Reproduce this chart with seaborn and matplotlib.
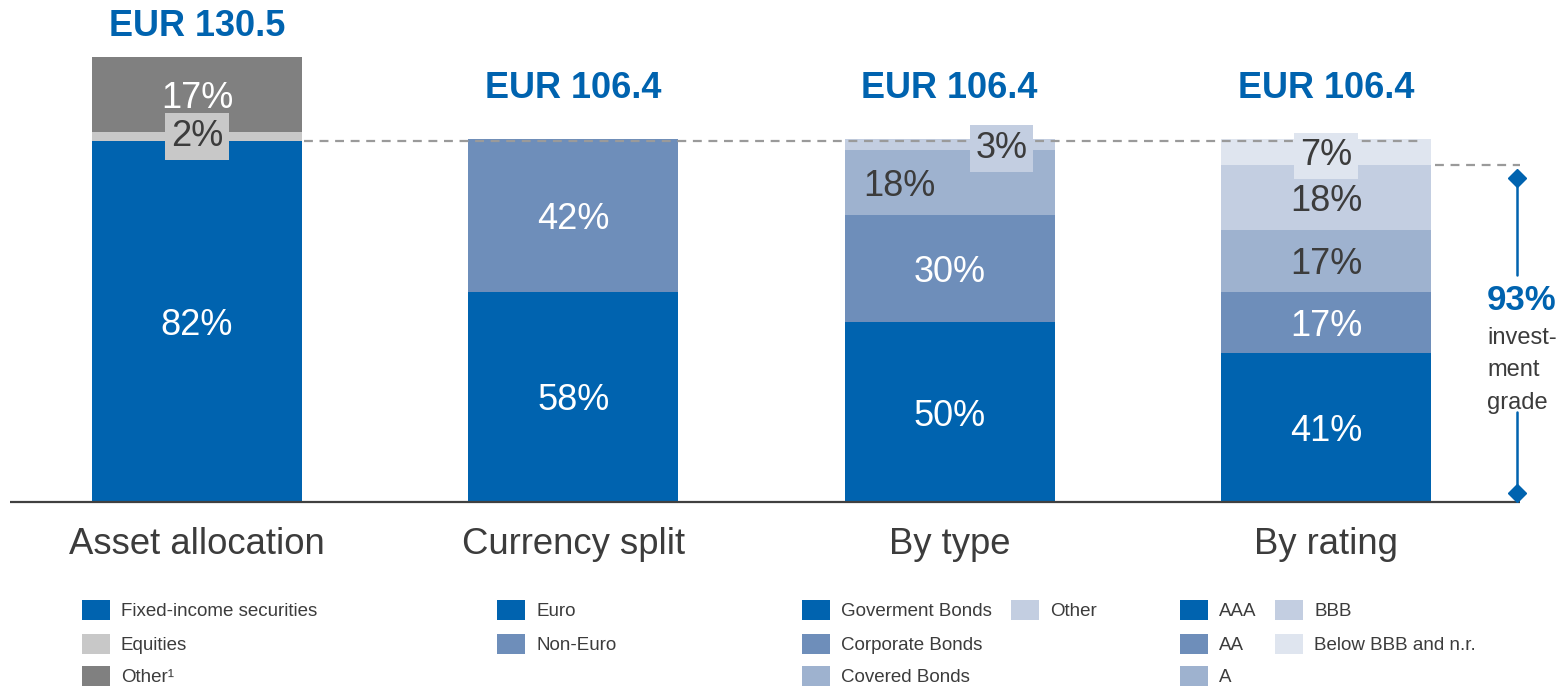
import numpy as np
import pandas as pd
import seaborn as sns
import matplotlib.pyplot as plt
from matplotlib.patches import Rectangle

# data
categories = ["Asset allocation", "Currency split", "By type", "By rating"]
totals = [130.5, 106.4, 106.4, 106.4]

asset_labels = ["Fixed-income securities", "Equities", "Other¹"]
asset_pct = [82, 2, 17]
currency_labels = ["Euro", "Non-Euro"]
currency_pct = [58, 42]
type_labels = ["Goverment Bonds", "Corporate Bonds", "Covered Bonds", "Other"]
type_pct = [50, 30, 18, 3]
rating_labels = ["AAA", "AA", "A", "BBB", "Below BBB and n.r."]
rating_pct = [41, 17, 17, 18, 7]
investment_grade_pct = 93

# colours
BLUE = "#0063AF"
MID = "#6E8EBA"
LIGHT = "#9EB2CF"
PALE = "#C3CEE1"
PALEST = "#DFE5EF"
EQ_GRAY = "#C8C8C8"
DARK_GRAY = "#808080"
TXT = "#3C3C3C"

groups = [
    (asset_labels, asset_pct, [BLUE, EQ_GRAY, DARK_GRAY]),
    (currency_labels, currency_pct, [BLUE, MID]),
    (type_labels, type_pct, [BLUE, MID, LIGHT, PALE]),
    (rating_labels, rating_pct, [BLUE, MID, LIGHT, PALE, PALEST]),
]

# label styling per bar: text colour, boxed, x shift (px), y shift (px)
label_style = [
    [("white", False, 0, 0), (TXT, True, 0, 0), ("white", False, 0, 0)],
    [("white", False, 0, 0), ("white", False, 0, 0)],
    [("white", False, 0, 0), ("white", False, 0, 0), (TXT, False, -50, 0), (TXT, True, 52, 0)],
    [("white", False, 0, 0), ("white", False, 0, 0), (TXT, False, 0, 0), (TXT, False, 0, 0), (TXT, True, 0, 0)],
]
label_anchor = {(0, 1): "top"}  # equities label sits on the boundary

# pixel <-> data mapping
W, H = 1567, 688
X0, XS = 197, 376.3
Y0, YS = 502, 3.41
BAR_W = 210 / XS


def to_x(p):
    return (p - X0) / XS


def to_y(p):
    return (Y0 - p) / YS


def fig_xy(x, y):
    return x / W, 1 - y / H


rows = []
for i, (labels, pct, colors) in enumerate(groups):
    share = np.array(pct, dtype=float) / sum(pct) * totals[i]
    tops = np.cumsum(share)
    for lvl, (lab, p, c, t, s) in enumerate(zip(labels, pct, colors, tops, share)):
        rows.append(dict(category=categories[i], idx=i, level=lvl, label=lab, pct=p,
                         color=c, top=t, bottom=t - s))
df = pd.DataFrame(rows)

sns.set_theme(style="white")
plt.rcParams["font.family"] = ["Liberation Sans", "DejaVu Sans"]

fig = plt.figure(figsize=(W / 100, H / 100), dpi=100)
ax = fig.add_axes([0, 0, 1, 1])

for lvl in sorted(df.level.unique(), reverse=True):
    sub = df[df.level == lvl]
    sns.barplot(data=sub, x="category", y="top", hue="category", order=categories,
                palette=dict(zip(sub.category, sub.color)), width=BAR_W, dodge=False,
                saturation=1, errorbar=None, legend=False, linewidth=0, ax=ax)

ax.set_xlim(to_x(0), to_x(W))
ax.set_ylim(to_y(H), to_y(0))
ax.axis("off")

# baseline
ax.plot([to_x(10), to_x(1520)], [0, 0], color="#404040", lw=1.6, solid_capstyle="butt")

# segment labels
for _, r in df.iterrows():
    col, boxed, dx, dy = label_style[r.idx][r.level]
    y = (r.top + r.bottom) / 2
    if label_anchor.get((r.idx, r.level)) == "top":
        y = r.top - 0.2
    kw = {}
    if boxed:
        kw["bbox"] = dict(boxstyle="square,pad=0.16", fc=r.color, ec="none")
    ax.text(r.idx + dx / XS, y - dy / YS, f"{r.pct}%", ha="center", va="center_baseline",
            fontsize=26, color=col, **kw)

# totals and category names
title_gap = [34, 55, 55, 55]
for i, t in enumerate(totals):
    top = df[df.idx == i].top.max()
    ax.text(i, top + title_gap[i] / YS, f"EUR {t}", ha="center", va="center_baseline",
            fontsize=26, fontweight="bold", color=BLUE)
    ax.text(i, to_y(541), categories[i], ha="center", va="center_baseline",
            fontsize=26.3, color=TXT)

# dashed guides
fi_top = df[(df.idx == 0) & (df.level == 0)].top.iloc[0]
ig_top = df[(df.idx == 3) & (df.level == 3)].top.iloc[0]
ax.plot([BAR_W / 2 + 0.005, 3 + BAR_W / 2 - 0.02], [fi_top, fi_top], color="#9A9A9A",
        lw=1.6, dashes=(4, 3))
ax.plot([3 + BAR_W / 2 + 0.01, to_x(1520)], [ig_top, ig_top], color="#9A9A9A",
        lw=1.6, dashes=(4, 3))

# investment grade bracket
bx = to_x(1517)
y_hi = ig_top - 13 / YS
y_lo = 9 / YS
ax.plot([bx, bx], [y_hi, to_y(275)], color=BLUE, lw=1.8)
ax.plot([bx, bx], [to_y(412), y_lo], color=BLUE, lw=1.8)
ax.plot([bx, bx], [y_hi, y_lo], ls="none", marker="D", ms=9, color=BLUE)
ax.text(to_x(1487), to_y(297), f"{investment_grade_pct}%", ha="left", va="center_baseline",
        fontsize=25, fontweight="bold", color=BLUE)
for txt, yy in zip(["invest-", "ment", "grade"], [335, 368, 400]):
    ax.text(to_x(1487), to_y(yy), txt, ha="left", va="center_baseline", fontsize=17, color=TXT)

# legends
legend_cols = [[82], [497], [802, 1011], [1180, 1275]]
legend_rows = [610, 644, 676]
for i, (labels, pct, colors) in enumerate(groups):
    for k, (lab, c) in enumerate(zip(labels, colors)):
        cx = legend_cols[i][k // 3]
        cy = legend_rows[k % 3]
        x0, y0 = fig_xy(cx, cy + 10)
        fig.patches.append(Rectangle((x0, y0), 28 / W, 20 / H, transform=fig.transFigure,
                                     fc=c, ec="none"))
        tx, ty = fig_xy(cx + 39, cy)
        fig.text(tx, ty, lab, ha="left", va="center_baseline", fontsize=13.5, color=TXT)

fig.savefig("out.png", dpi=100)
